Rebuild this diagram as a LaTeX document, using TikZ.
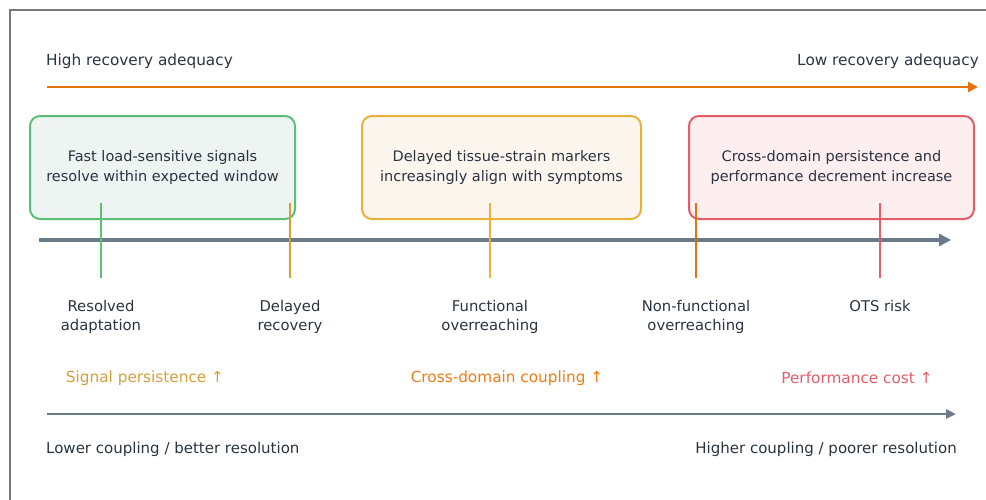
\documentclass[tikz,border=0pt]{standalone}
\usepackage{fontspec}
\setmainfont{DejaVu Sans}
\usetikzlibrary{arrows.meta}
\definecolor{ink}{HTML}{2A3440}
\definecolor{frame}{HTML}{7A7A7A}
\definecolor{axisgray}{HTML}{6B7B8A}
\definecolor{orng}{HTML}{E8710A}
\definecolor{grn}{HTML}{5BBF75}
\definecolor{grnfill}{HTML}{EEF4F2}
\definecolor{gold}{HTML}{E8B13A}
\definecolor{goldfill}{HTML}{FDF6EE}
\definecolor{darkgold}{HTML}{D4A03A}
\definecolor{rd}{HTML}{E35D6A}
\definecolor{rdfill}{HTML}{FDEEEF}
\definecolor{crossor}{HTML}{F07C14}
\tikzset{
  txt/.style={font=\fontsize{15.3}{20}\selectfont, text=ink, inner sep=0pt},
  btxt/.style={txt, font=\fontsize{15}{20}\selectfont},
  lbl/.style={txt, font=\fontsize{14.8}{19.5}\selectfont, align=center},
  card/.style={rounded corners=10pt, line width=2pt, minimum width=#1, minimum height=103pt, align=center, font=\fontsize{14.5}{20}\selectfont, text=ink},
  tick/.style={line width=2.8pt},
}
\begin{document}
\begin{tikzpicture}[x=1pt,y=-1pt]
\useasboundingbox (0,0) rectangle (986,499);
\begin{scope}
\clip (0,0) rectangle (986,499);
\draw[frame, line width=2pt] (10,10) rectangle (995,510);
\end{scope}

% top adequacy arrow
\node[txt, anchor=west] (hi) at (46,61) {High recovery adequacy};
\node[txt, anchor=east] (lo) at (979,61) {Low recovery adequacy};
\coordinate (a1) at (47,87);
\coordinate (a2) at (978,87);
\draw[orng, line width=2.6pt, -{Triangle[length=10pt,width=10pt]}] (a1) -- (a2);

% cards
\node[card=265pt, draw=grn, fill=grnfill] (c1) at (162.5,167.5) {Fast load-sensitive signals\\resolve within expected window};
\node[card=279pt, draw=gold, fill=goldfill] (c2) at (501.5,167.5) {Delayed tissue-strain markers\\increasingly align with symptoms};
\node[card=285pt, draw=rd, fill=rdfill] (c3) at (831.5,167.5) {Cross-domain persistence and\\performance decrement increase};

% middle axis
\coordinate (m1) at (39,240);
\coordinate (m2) at (951,240);
\draw[axisgray, line width=3.8pt, -{Triangle[length=12pt,width=12pt]}] (m1) -- (m2);

% ticks
\coordinate (t1a) at (101,203); \coordinate (t1b) at (101,278);
\coordinate (t2a) at (290,203); \coordinate (t2b) at (290,278);
\coordinate (t3a) at (490,203); \coordinate (t3b) at (490,278);
\coordinate (t4a) at (696,203); \coordinate (t4b) at (696,278);
\coordinate (t5a) at (880,203); \coordinate (t5b) at (880,278);
\draw[tick, grn] (t1a) -- (t1b);
\draw[tick, darkgold] (t2a) -- (t2b);
\draw[tick, gold] (t3a) -- (t3b);
\draw[tick, orng] (t4a) -- (t4b);
\draw[tick, rd] (t5a) -- (t5b);

% stage labels
\node[lbl, anchor=north] (s1) at (101,300) {Resolved\\adaptation};
\node[lbl, anchor=north] (s2) at (290,300) {Delayed\\recovery};
\node[lbl, anchor=north] (s3) at (490,300) {Functional\\overreaching};
\node[lbl, anchor=north] (s4) at (696,300) {Non-functional\\overreaching};
\node[lbl, anchor=north] (s5) at (880,300) {OTS risk};

% trend labels
\node[txt, text=darkgold] (p1) at (145,378) {Signal persistence ↑};
\node[txt, text=crossor] (p2) at (507,378) {Cross-domain coupling ↑};
\node[txt, text=rd] (p3) at (857,378) {Performance cost ↑};

% bottom axis
\coordinate (b1) at (47,414);
\coordinate (b2) at (956,414);
\draw[axisgray, line width=2.6pt, -{Triangle[length=10pt,width=9pt]}] (b1) -- (b2);
\node[btxt, anchor=west] (lc) at (46,449) {Lower coupling / better resolution};
\node[btxt, anchor=east] (hc) at (957,449) {Higher coupling / poorer resolution};
\end{tikzpicture}
\end{document}
